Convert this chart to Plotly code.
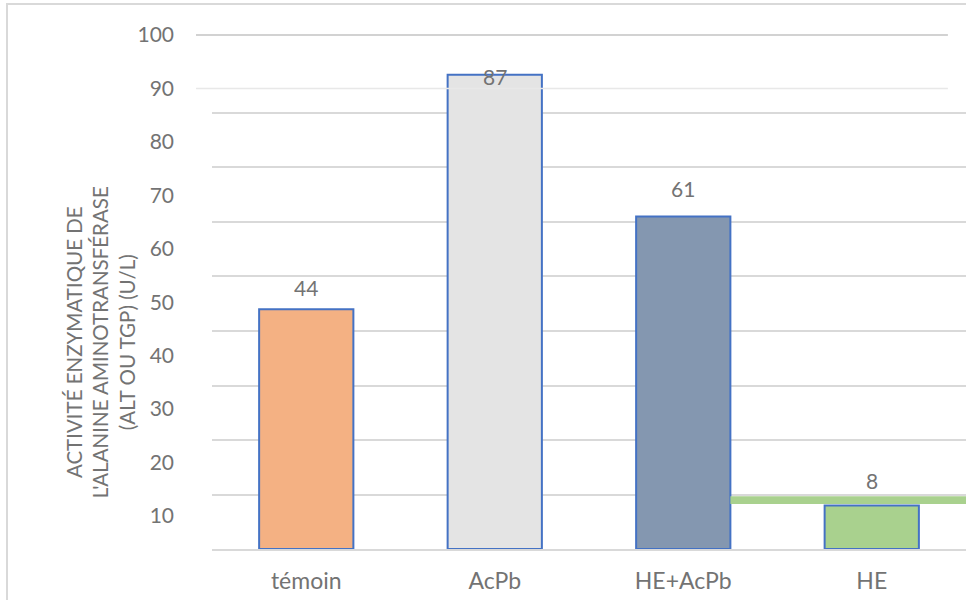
import plotly.graph_objects as go

# Activité enzymatique ALT par groupe
groupes = ["témoin", "AcPb", "HE+AcPb", "HE"]
alt_ul = [44, 87, 61, 8]
couleurs = ["#F4B183", "#E4E4E4", "#8497B0", "#A9D18E"]

# graduations de l'axe gradué et du quadrillage
graduations = [10, 20, 30, 40, 50, 60, 70, 80, 90, 100]
quadrillage = [10, 20, 30, 40, 50, 60, 70, 80]

# décalage vertical (px) des étiquettes de valeur
decalage_etiquettes = [22, -2, 28, 25]

GRIS_TEXTE = "#737373"
GRIS_LIGNE = "#D9D9D9"
POLICE = "Lato"

fig = go.Figure()

fig.add_trace(go.Bar(
    x=groupes,
    y=alt_ul,
    width=0.5,
    marker=dict(color=couleurs, line=dict(color="#4472C4", width=2)),
    hoverinfo="x+y",
    showlegend=False,
))

# étiquettes de valeur
for g, v, d in zip(groupes, alt_ul, decalage_etiquettes):
    fig.add_annotation(
        x=g, y=v, yref="y", text=str(v), showarrow=False,
        yanchor="middle", yshift=d,
        font=dict(family=POLICE, size=21, color=GRIS_TEXTE),
    )

# bande verte horizontale à droite
fig.add_shape(
    type="rect", xref="x", yref="y",
    x0=2.25, x1=3.5, y0=8.25, y1=9.7,
    fillcolor="#A9D18E", line=dict(width=0), layer="above",
)

# lignes des deux graduations supérieures
for val, couleur, ep in zip(graduations[-2:][::-1], ["#D2D2D2", "#E8E8E8"], [2, 1.5]):
    fig.add_shape(
        type="line", xref="paper", yref="y2",
        x0=-0.0212, x1=0.976, y0=val, y1=val,
        line=dict(color=couleur, width=ep),
    )

# titre de l'axe vertical
fig.add_annotation(
    xref="paper", yref="paper", x=-0.1485, y=0.40,
    text="ACTIVITÉ ENZYMATIQUE DE<br>L'ALANINE AMINOTRANSFÉRASE<br>(ALT OU TGP) (U/L)",
    textangle=-90, showarrow=False, xanchor="center", yanchor="middle",
    font=dict(family=POLICE, size=20.5, color=GRIS_TEXTE),
)

# cadre du graphique
fig.add_shape(
    type="rect", xref="paper", yref="paper",
    x0=-0.2719, x1=1.2, y0=-0.3, y1=1.0542,
    line=dict(color=GRIS_LIGNE, width=2), fillcolor="rgba(0,0,0,0)",
)

fig.update_layout(
    width=966, height=600,
    margin=dict(l=212, r=0, t=32, b=51),
    paper_bgcolor="white", plot_bgcolor="white",
    bargap=0.5,
    font=dict(family=POLICE, color=GRIS_TEXTE),
    xaxis=dict(
        range=[-0.5, 3.5], showgrid=False, zeroline=False,
        showline=True, linecolor=GRIS_LIGNE, linewidth=2,
        ticks="", ticklabelstandoff=10,
        tickfont=dict(family=POLICE, size=23, color=GRIS_TEXTE),
    ),
    yaxis=dict(
        range=[0, 94.86], tickvals=quadrillage, showticklabels=False,
        showgrid=True, gridcolor=GRIS_LIGNE, gridwidth=2, zeroline=False,
        showline=False,
    ),
    yaxis2=dict(
        overlaying="y", side="left", anchor="x",
        range=[3.825, 100.56], tickvals=graduations,
        showgrid=False, zeroline=False, showline=False, ticks="",
        ticklabelstandoff=37,
        tickfont=dict(family=POLICE, size=21, color=GRIS_TEXTE),
    ),
)

fig.write_html("out.html")
